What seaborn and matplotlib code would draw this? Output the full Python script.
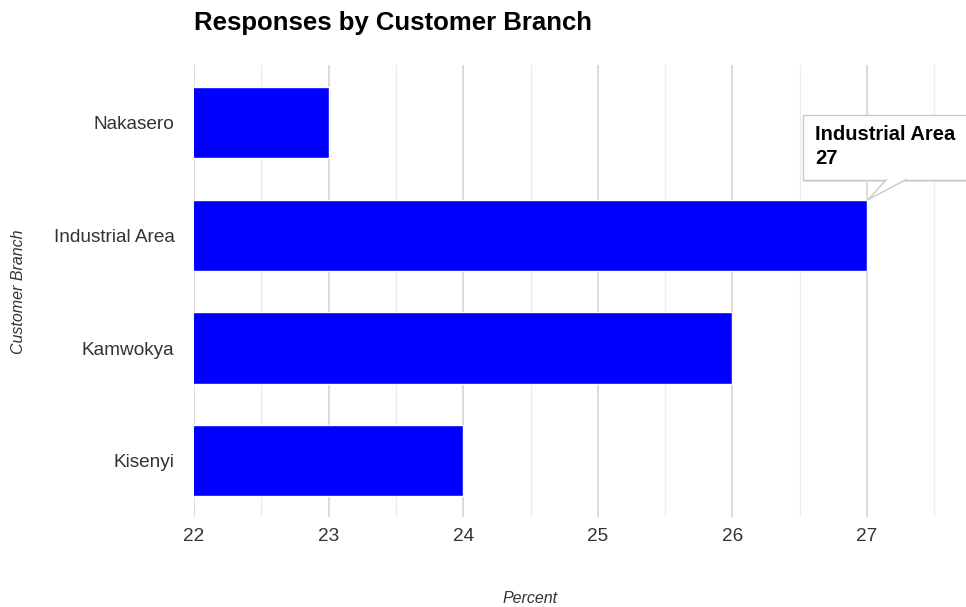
import matplotlib.pyplot as plt
import seaborn as sns
import pandas as pd
from matplotlib.ticker import MultipleLocator
from matplotlib.patches import Rectangle, Polygon
from matplotlib.transforms import IdentityTransform

branches = ['Nakasero', 'Industrial Area', 'Kamwokya', 'Kisenyi']
percent = [23, 27, 26, 24]
x_ticks = [22, 23, 24, 25, 26, 27]
hovered = 'Industrial Area'

df = pd.DataFrame({'branch': branches, 'percent': percent})

sns.set_style('white')
plt.rcParams['font.family'] = ['Liberation Sans', 'DejaVu Sans']

fig = plt.figure(figsize=(9.66, 6.07), dpi=100)
ax = fig.add_axes([0.2008, 0.148, 0.7992, 0.745])

sns.barplot(data=df, y='branch', x='percent', orient='h', color='#0000ff',
            saturation=1, width=0.63, ax=ax, zorder=3)

ax.set_xlim(22, 27.735)
ax.set_ylim(3.5, -0.51)
ax.set_xticks(x_ticks)
ax.xaxis.set_minor_locator(MultipleLocator(0.5))
ax.grid(axis='x', which='major', color='#d4d4d4', linewidth=1.2, zorder=0)
ax.grid(axis='x', which='minor', color='#ececec', linewidth=1.0, zorder=0)
ax.set_axisbelow(True)
for s in ax.spines.values():
    s.set_visible(False)
ax.tick_params(axis='both', length=0, labelsize=13.7, labelcolor='#333333')
ax.tick_params(axis='x', pad=8)
ax.tick_params(axis='y', pad=14)
ax.set_xlabel('')
ax.set_ylabel('')

fig.text(0.2008, 0.962, 'Responses by Customer Branch', fontsize=18.5,
         fontweight='bold', ha='left', va='center', color='black')
fig.text(0.549, 0.002, 'Percent', fontsize=11.5, style='italic',
         ha='center', va='bottom', color='#333333')
fig.text(0.019, 0.52, 'Customer Branch', fontsize=11.5, style='italic',
         rotation=90, ha='center', va='center', color='#333333')

# tooltip for the hovered bar
i = branches.index(hovered)
tip = ax.transData.transform((percent[i], i - 0.315))
H = 607
ident = IdentityTransform()
box_l, box_b, box_w, box_h = 803, H - 180, 200, 65
fig.patches.append(Rectangle((box_l + 2, box_b - 2), box_w, box_h,
                             transform=ident, fc='#e6e6e6', ec='none', zorder=8))
fig.patches.append(Rectangle((box_l, box_b), box_w, box_h, transform=ident,
                             fc='white', ec='#c8c8c8', lw=1, zorder=9))
fig.patches.append(Polygon([(887, box_b + 1), (tip[0] + 1, tip[1]), (907, box_b + 1)],
                           closed=False, transform=ident, fc='white',
                           ec='#c8c8c8', lw=1, zorder=10))
fig.text(815 / 966, (H - 135) / H, f'{hovered}', fontsize=14.5, fontweight='bold',
         ha='left', va='center', color='black', zorder=11)
fig.text(815 / 966, (H - 159) / H, f'{percent[i]}', fontsize=14.5, fontweight='bold',
         ha='left', va='center', color='black', zorder=11)

fig.savefig('out.png', dpi=100)
